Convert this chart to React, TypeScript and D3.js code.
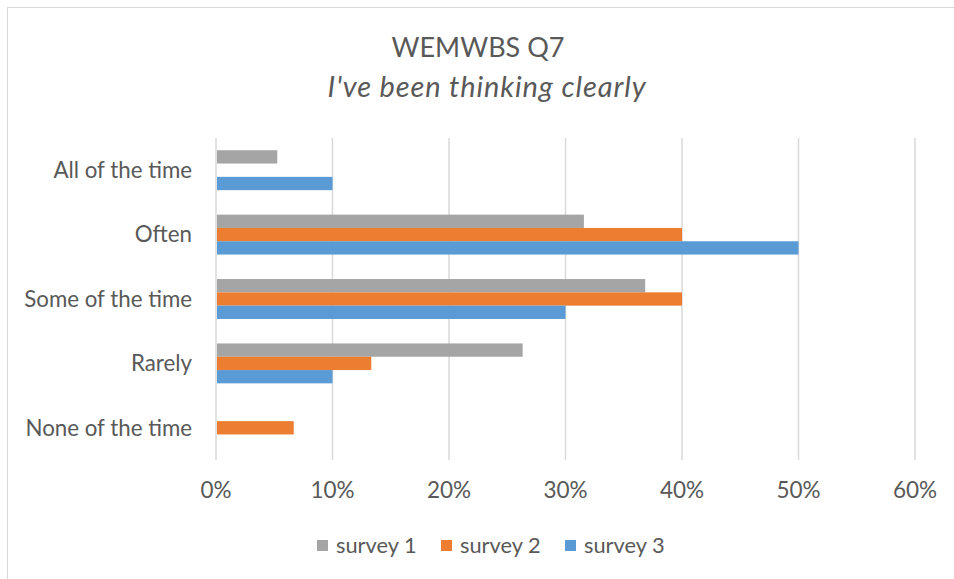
import { useEffect, useRef } from 'react';
import * as d3 from 'd3';

const categories = ['All of the time', 'Often', 'Some of the time', 'Rarely', 'None of the time'];
const seriesNames = ['survey 1', 'survey 2', 'survey 3'];
const survey1 = [0.0526, 0.3158, 0.3684, 0.2632, 0];
const survey2 = [0, 0.4, 0.4, 0.1333, 0.0667];
const survey3 = [0.1, 0.5, 0.3, 0.1, 0];
const xTicks = [0, 0.1, 0.2, 0.3, 0.4, 0.5, 0.6];
const colors = ['#A5A5A5', '#ED7D31', '#5B9BD5'];

const FONT = 'Lato, "Open Sans", sans-serif';
const TEXT = '#595959';

function App() {
  const svgRef = useRef(null);
  const width = 954;
  const height = 579;

  useEffect(() => {
    const svg = d3.select(svgRef.current);
    svg.selectAll('*').remove();

    const margin = { top: 138, right: 39, bottom: 119, left: 216 };
    const innerW = width - margin.left - margin.right;
    const innerH = height - margin.top - margin.bottom;

    // chart frame (only top/left visible in crop)
    svg.append('rect')
      .attr('x', 7.5).attr('y', 7.5)
      .attr('width', 1000).attr('height', 1000)
      .attr('fill', 'white')
      .attr('stroke', '#d9d9d9')
      .attr('stroke-width', 1);

    // titles
    svg.append('text')
      .attr('x', 478).attr('y', 57)
      .attr('text-anchor', 'middle')
      .attr('font-family', FONT).attr('font-size', 27)
      .attr('fill', TEXT)
      .text('WEMWBS Q7');
    svg.append('text')
      .attr('x', 487).attr('y', 97)
      .attr('text-anchor', 'middle')
      .attr('font-family', FONT).attr('font-size', 29)
      .attr('font-style', 'italic')
      .attr('letter-spacing', 0.9)
      .attr('fill', TEXT)
      .text("I've been thinking clearly");

    const g = svg.append('g').attr('transform', `translate(${margin.left},${margin.top})`);

    const x = d3.scaleLinear().domain([0, 0.6]).range([0, innerW]);
    const y = d3.scaleBand().domain(categories).range([0, innerH]);
    const inner = d3.scaleBand()
      .domain(seriesNames)
      .range([0, y.bandwidth()])
      .paddingOuter(0.92);

    // gridlines
    g.selectAll('.grid')
      .data(xTicks)
      .enter()
      .append('line')
      .attr('x1', d => x(d)).attr('x2', d => x(d))
      .attr('y1', 0).attr('y2', innerH)
      .attr('stroke', '#d9d9d9')
      .attr('stroke-width', 1.5);

    // tick labels
    g.selectAll('.tick-label')
      .data(xTicks)
      .enter()
      .append('text')
      .attr('x', d => x(d))
      .attr('y', innerH + 38)
      .attr('text-anchor', 'middle')
      .attr('font-family', FONT).attr('font-size', 22.5)
      .attr('fill', TEXT)
      .text(d => d3.format('.0%')(d));

    // category labels
    g.selectAll('.cat-label')
      .data(categories)
      .enter()
      .append('text')
      .attr('x', -24)
      .attr('y', d => y(d) + y.bandwidth() / 2)
      .attr('dy', '0.35em')
      .attr('text-anchor', 'end')
      .attr('font-family', FONT).attr('font-size', 22.3)
      .attr('fill', TEXT)
      .text(d => d);

    const allSeries = [survey1, survey2, survey3];
    const rows = categories.flatMap((c, i) =>
      seriesNames.map((s, j) => ({ cat: c, series: s, value: allSeries[j][i], color: colors[j] }))
    );

    g.selectAll('.bar')
      .data(rows.filter(d => d.value > 0))
      .enter()
      .append('rect')
      .attr('x', x(0) + 1)
      .attr('y', d => y(d.cat) + inner(d.series))
      .attr('width', d => x(d.value) - x(0) - 1)
      .attr('height', inner.bandwidth())
      .attr('fill', d => d.color);

    // legend
    const legendX = [317, 441, 565];
    const legend = svg.selectAll('.legend')
      .data(seriesNames)
      .enter()
      .append('g')
      .attr('transform', (d, i) => `translate(${legendX[i]},545)`);
    legend.append('rect')
      .attr('x', 0).attr('y', -5)
      .attr('width', 11).attr('height', 11)
      .attr('fill', (d, i) => colors[i]);
    legend.append('text')
      .attr('x', 19).attr('y', 0)
      .attr('dy', '0.35em')
      .attr('font-family', FONT).attr('font-size', 21.8)
      .attr('fill', TEXT)
      .text(d => d);
  }, []);

  return (
    <svg
      ref={svgRef}
      width={width}
      height={height}
      style={{ position: 'absolute', left: 0, top: 0 }}
    />
  );
}

export default App;
